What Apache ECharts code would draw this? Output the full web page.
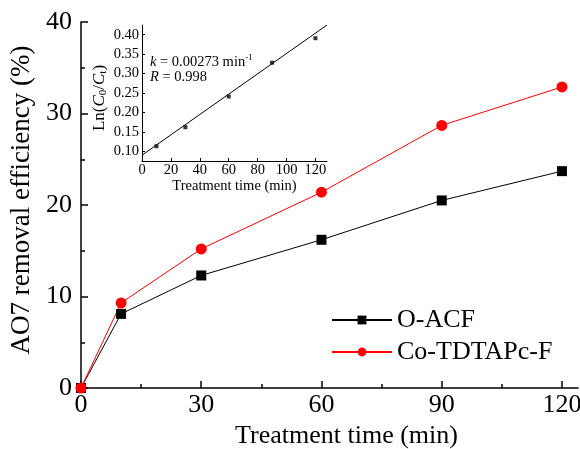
<!DOCTYPE html>
<html>
<head>
<meta charset="utf-8">
<script src="https://cdn.jsdelivr.net/npm/echarts@6/dist/echarts.min.js"></script>
<style>
  html, body { margin: 0; padding: 0; background: #fff; }
  #container { width: 580px; height: 449px; }
</style>
</head>
<body>
<div id="container"></div>
<script>
var myChart = echarts.init(document.getElementById('container'));

// main plot
var times = [0, 10, 30, 60, 90, 120];
var oacf = [0, 8.1, 12.3, 16.2, 20.5, 23.7];
var cotdtapc = [0, 9.3, 15.2, 21.4, 28.7, 32.9];
var xMajor = [0, 30, 60, 90, 120];
var xMinor = [15, 45, 75, 105];

// inset: first-order kinetics
var insetTimes = [10, 30, 60, 90, 120];
var insetLn = [0.113, 0.162, 0.241, 0.328, 0.391];
var fitX = [0, 128];
var fitY = [0.09, 0.425];
var insetXTicks = [0, 20, 40, 60, 80, 100, 120];
var insetYTicks = [0.10, 0.15, 0.20, 0.25, 0.30, 0.35, 0.40];

function pairs(xs, ys) {
  return xs.map(function (x, i) { return [x, ys[i]]; });
}

var font = 'Liberation Serif';

var option = {
  backgroundColor: '#fff',
  animation: false,
  textStyle: { fontFamily: font, color: '#000' },
  grid: [
    { left: 81, top: 22, right: 2, bottom: 61, outerBoundsMode: 'none' },
    { left: 142, top: 25, width: 185, height: 136, outerBoundsMode: 'none' }
  ],
  legend: {
    data: ['O-ACF', 'Co-TDTAPc-F'],
    orient: 'vertical',
    left: 326,
    top: 302,
    itemWidth: 60,
    itemHeight: 11,
    itemGap: 6,
    textStyle: { fontFamily: font, fontSize: 26, color: '#000' }
  },
  xAxis: [
    {
      type: 'value', gridIndex: 0, min: 0, max: 124,
      name: 'Treatment time (min)', nameLocation: 'middle', nameGap: 34,
      nameTextStyle: { fontFamily: font, fontSize: 26, color: '#000', padding: [0, 0, 0, 34] },
      axisLine: { lineStyle: { color: '#000', width: 1.5 } },
      axisTick: { inside: true, length: 7, customValues: xMajor, lineStyle: { color: '#000', width: 1.5 } },
      axisLabel: { customValues: xMajor, margin: 4, fontFamily: font, fontSize: 26, color: '#000' },
      splitLine: { show: false }
    },
    {
      type: 'value', gridIndex: 0, min: 0, max: 124, position: 'bottom',
      axisLine: { show: false },
      axisTick: { inside: true, length: 4, customValues: xMinor, lineStyle: { color: '#000', width: 1.5 } },
      axisLabel: { show: false },
      splitLine: { show: false }
    },
    {
      type: 'value', gridIndex: 1, min: 0, max: 128,
      name: 'Treatment time (min)', nameLocation: 'middle', nameGap: 16,
      nameTextStyle: { fontFamily: font, fontSize: 14.5, color: '#000' },
      axisLine: { lineStyle: { color: '#000', width: 1 } },
      axisTick: { inside: true, length: 3, customValues: insetXTicks, lineStyle: { color: '#000' } },
      axisLabel: { customValues: insetXTicks, margin: 2, fontFamily: font, fontSize: 14.5, color: '#000' },
      splitLine: { show: false }
    }
  ],
  yAxis: [
    {
      type: 'value', gridIndex: 0, min: 0, max: 40, interval: 10,
      name: 'AO7 removal efficiency (%)', nameLocation: 'middle', nameGap: 45,
      nameTextStyle: { fontFamily: font, fontSize: 27, color: '#000', padding: [0, 0, 0, 10] },
      axisLine: { show: true, lineStyle: { color: '#000', width: 1.5 } },
      axisTick: { inside: true, length: 7, lineStyle: { color: '#000', width: 1.5 } },
      minorTick: { show: true, splitNumber: 2, length: 4, lineStyle: { color: '#000', width: 1.5 } },
      axisLabel: { margin: 9, fontFamily: font, fontSize: 26, color: '#000' },
      splitLine: { show: false }
    },
    {
      type: 'value', gridIndex: 1, min: 0.075, max: 0.425,
      name: '{n|Ln(}{i|C}{s|0}{n|/}{i|C}{s|t}{n|)}', nameLocation: 'middle', nameGap: 33,
      nameTextStyle: {
        padding: [0, 10, 0, 0],
        rich: {
          n: { fontFamily: font, fontSize: 17, color: '#000' },
          i: { fontFamily: font, fontSize: 17, fontStyle: 'italic', color: '#000' },
          s: { fontFamily: font, fontSize: 11, color: '#000', verticalAlign: 'bottom', padding: [8, 0, 0, 0] }
        }
      },
      axisLine: { show: true, lineStyle: { color: '#000', width: 1 } },
      axisTick: { inside: true, length: 3, customValues: insetYTicks, lineStyle: { color: '#000' } },
      axisLabel: {
        customValues: insetYTicks, margin: 3, fontFamily: font, fontSize: 14.5, color: '#000',
        formatter: function (v) { return v.toFixed(2); }
      },
      splitLine: { show: false }
    }
  ],
  graphic: [
    {
      type: 'text', left: 150, top: 53, z: 100,
      style: {
        text: '{i|k} = 0.00273 min{sup|-1}',
        rich: {
          i: { fontFamily: font, fontSize: 14.5, fontStyle: 'italic', fill: '#000' },
          sup: { fontFamily: font, fontSize: 9, fill: '#000', verticalAlign: 'top', padding: [0, 0, 9, 0] }
        },
        fontFamily: font, fontSize: 14.5, fill: '#000'
      }
    },
    {
      type: 'text', left: 150, top: 70, z: 100,
      style: {
        text: '{i|R} = 0.998',
        rich: { i: { fontFamily: font, fontSize: 14.5, fontStyle: 'italic', fill: '#000' } },
        fontFamily: font, fontSize: 14.5, fill: '#000'
      }
    }
  ],
  series: [
    {
      name: 'O-ACF', type: 'line', xAxisIndex: 0, yAxisIndex: 0,
      data: pairs(times, oacf),
      symbol: 'rect', symbolSize: 10,
      lineStyle: { color: '#000', width: 1 },
      itemStyle: { color: '#000' }
    },
    {
      name: 'Co-TDTAPc-F', type: 'line', xAxisIndex: 0, yAxisIndex: 0,
      data: pairs(times, cotdtapc),
      symbol: 'circle', symbolSize: 11,
      lineStyle: { color: '#ff0000', width: 1 },
      itemStyle: { color: '#ff0000' }
    },
    {
      name: 'fit', type: 'line', xAxisIndex: 2, yAxisIndex: 1,
      data: pairs(fitX, fitY),
      symbol: 'none',
      lineStyle: { color: '#000', width: 1 }
    },
    {
      name: 'ln', type: 'scatter', xAxisIndex: 2, yAxisIndex: 1,
      data: pairs(insetTimes, insetLn),
      symbol: 'rect', symbolSize: 4,
      itemStyle: { color: '#000' }
    }
  ]
};

myChart.setOption(option);
</script>
</body>
</html>
